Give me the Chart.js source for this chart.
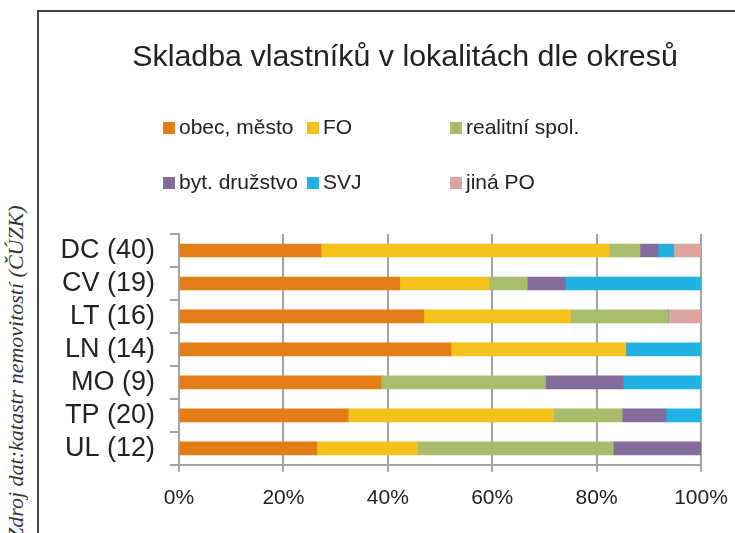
<!DOCTYPE html>
<html>
<head>
<meta charset="utf-8">
<script src="https://cdn.jsdelivr.net/npm/chart.js@4.4.1/dist/chart.umd.min.js"></script>
<style>
    body { margin: 0; background: #fff; font-family: "Liberation Sans", Arial, sans-serif; }
    #wrap { position: relative; width: 735px; height: 533px; overflow: hidden; }
    #frame { position: absolute; left: 37px; top: 10px; width: 760px; height: 600px;
        border-left: 2px solid #444; border-top: 2px solid #444; }
    #source { position: absolute; left: 5px; top: 540px; transform-origin: 0 0; transform: rotate(-90deg);
        font-family: "Liberation Serif", serif; font-style: italic; font-size: 22px; color: #333;
        white-space: nowrap; line-height: 22px; }
    #title { position: absolute; left: 105px; width: 600px; top: 40px; text-align: center;
        font-size: 30.4px; line-height: 30px; color: #222; white-space: nowrap; }
    #legend { position: absolute; left: 0; top: 0; }
    .item { position: absolute; font-size: 21px; color: #222; white-space: nowrap; line-height: 1; }
    .item span { display: inline-block; width: 12px; height: 12px; margin-right: 4px; }
    canvas { position: absolute; left: 0; top: 0; }
</style>
</head>
<body>
<div id="wrap">
    <div id="frame"></div>
    <div id="source">Zdroj dat:katastr nemovitostí (ČÚZK)</div>
    <canvas id="barChart" width="735" height="533"></canvas>
    <div id="title">Skladba vlastníků v lokalitách dle okresů</div>
    <div id="legend"></div>
</div>
<script>
// okresy (počet lokalit)
const categories = ['DC (40)', 'CV (19)', 'LT (16)', 'LN (14)', 'MO (9)', 'TP (20)', 'UL (12)'];
const xTicks = [0, 20, 40, 60, 80, 100];

// podíly vlastníků v %
const obecMesto  = [27.2, 42.3, 46.9, 52.1, 38.7, 32.4, 26.4];
const fo         = [55.2, 17.0, 28.1, 33.5,  0.0, 39.4, 19.3];
const realitni   = [ 5.9,  7.4, 18.7,  0.0, 31.5, 13.1, 37.5];
const bytDruzstvo= [ 3.5,  7.3,  0.0,  0.0, 14.9,  8.4, 16.8];
const svj        = [ 3.0, 26.0,  0.0, 14.4, 14.9,  6.7,  0.0];
const jinaPO     = [ 5.2,  0.0,  6.3,  0.0,  0.0,  0.0,  0.0];

const seriesNames = ['obec, město', 'FO', 'realitní spol.', 'byt. družstvo', 'SVJ', 'jiná PO'];
const seriesColors = ['#E37E17', '#F5C21C', '#A7BD6B', '#836C9B', '#20B2E3', '#DCA4A1'];
const seriesValues = [obecMesto, fo, realitni, bytDruzstvo, svj, jinaPO];

const gridColor = '#a3a3a3';

const chartData = {
    labels: categories,
    datasets: seriesValues.map((vals, i) => ({
        label: seriesNames[i],
        data: vals,
        backgroundColor: seriesColors[i],
        borderWidth: 0,
        barThickness: 13
    }))
};

const config = {
    type: 'bar',
    data: chartData,
    options: {
        indexAxis: 'y',
        responsive: false,
        animation: false,
        layout: { padding: { top: 234, right: 34, bottom: 8, left: 0 } },
        plugins: {
            legend: { display: false },
            tooltip: { enabled: false },
            title: { display: false }
        },
        scales: {
            x: {
                stacked: true,
                min: 0,
                max: 100,
                afterBuildTicks: scale => { scale.ticks = xTicks.map(v => ({ value: v })); },
                afterFit: scale => { scale.paddingLeft = 0; scale.paddingRight = 0; },
                grid: { color: gridColor, lineWidth: 2, tickLength: 7 },
                border: { color: gridColor, width: 2 },
                ticks: {
                    color: '#222',
                    padding: 14,
                    font: { family: '"Liberation Sans", Arial, sans-serif', size: 21 },
                    callback: v => v + '%'
                }
            },
            y: {
                stacked: true,
                afterFit: scale => { scale.width = 179; },
                grid: { offset: true, drawOnChartArea: false, color: gridColor, lineWidth: 2, tickLength: 9 },
                border: { color: gridColor, width: 2 },
                ticks: {
                    color: '#222',
                    autoSkip: false,
                    padding: 15,
                    font: { family: '"Liberation Sans", Arial, sans-serif', size: 27 }
                }
            }
        }
    }
};

window.onload = function() {
    const ctx = document.getElementById('barChart').getContext('2d');
    window.barChart = new Chart(ctx, config);

    // legenda ve třech sloupcích
    const legend = document.getElementById('legend');
    const colX = [163, 307, 450];
    const rowY = [116, 171];
    seriesNames.forEach((name, i) => {
        const item = document.createElement('div');
        item.className = 'item';
        item.style.left = colX[i % 3] + 'px';
        item.style.top = rowY[Math.floor(i / 3)] + 'px';
        const box = document.createElement('span');
        box.style.background = seriesColors[i];
        item.appendChild(box);
        item.appendChild(document.createTextNode(name));
        legend.appendChild(item);
    });
};
</script>
</body>
</html>
